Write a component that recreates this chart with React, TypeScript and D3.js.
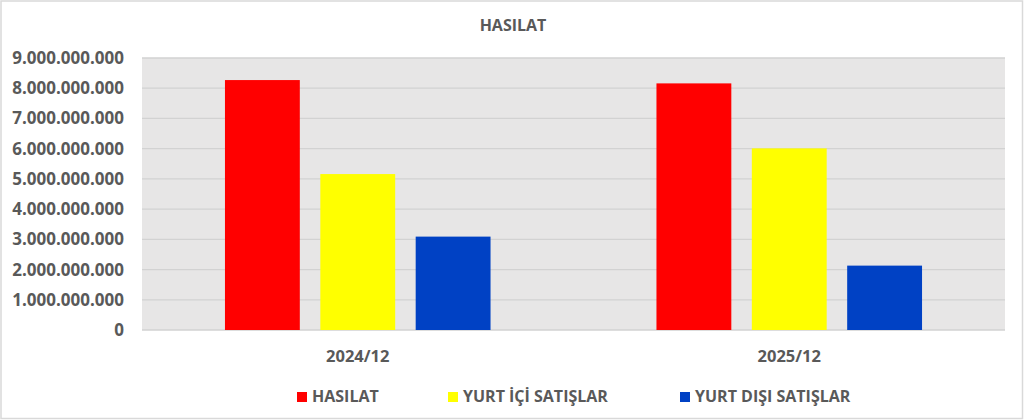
import { useEffect, useRef } from 'react'
import * as d3 from 'd3'

const categories = ['2024/12', '2025/12']
const seriesNames = ['HASILAT', 'YURT İÇİ SATIŞLAR', 'YURT DIŞI SATIŞLAR']
const hasilat = [8270000000, 8160000000]
const yurtIci = [5160000000, 6010000000]
const yurtDisi = [3090000000, 2130000000]
const yTicks = [0, 1e9, 2e9, 3e9, 4e9, 5e9, 6e9, 7e9, 8e9, 9e9]
const seriesColors = ['#ff0000', '#ffff00', '#0041c4']

const width = 1024
const height = 420
const FONT = '"Open Sans", "Noto Sans", sans-serif'
const TEXT = '#595959'

export default function App() {
  const svgRef = useRef<SVGSVGElement>(null)

  useEffect(() => {
    document.body.style.margin = '0'
    if (!svgRef.current) return
    const svg = d3.select(svgRef.current)
    svg.selectAll('*').remove()

    const plot = { left: 142, right: 1005, top: 58, bottom: 330 }
    const values = [hasilat, yurtIci, yurtDisi]

    // chart background + border
    svg
      .append('rect')
      .attr('x', 1)
      .attr('y', 1)
      .attr('width', width - 2.5)
      .attr('height', height - 2.5)
      .attr('fill', '#ffffff')
      .attr('stroke', '#d9d9d9')
      .attr('stroke-width', 1.5)

    // Title
    svg
      .append('text')
      .attr('x', 513)
      .attr('y', 31)
      .attr('text-anchor', 'middle')
      .attr('fill', TEXT)
      .attr('font-family', FONT)
      .attr('font-weight', 700)
      .attr('font-size', '16px')
      .text('HASILAT')

    const yScale = d3.scaleLinear().domain([0, 9e9]).range([plot.bottom, plot.top])

    const x0 = d3.scaleBand().domain(categories).range([plot.left, plot.right])
    const x1 = d3
      .scaleBand()
      .domain(seriesNames)
      .range([0, x0.bandwidth()])
      .paddingInner(0.215)
      .paddingOuter(0.87)

    const fmt = d3
      .formatLocale({ decimal: ',', thousands: '.', grouping: [3], currency: ['', ''] })
      .format(',d')

    // Plot background
    svg
      .append('rect')
      .attr('x', plot.left)
      .attr('y', plot.top)
      .attr('width', plot.right - plot.left)
      .attr('height', plot.bottom - plot.top)
      .attr('fill', '#e7e6e6')

    // Grid lines
    svg
      .append('g')
      .selectAll('line')
      .data(yTicks)
      .enter()
      .append('line')
      .attr('x1', plot.left)
      .attr('x2', plot.right)
      .attr('y1', (d) => yScale(d))
      .attr('y2', (d) => yScale(d))
      .attr('stroke', '#d2d2d2')
      .attr('stroke-width', 1.3)

    // Y axis labels
    svg
      .append('g')
      .selectAll('text')
      .data(yTicks)
      .enter()
      .append('text')
      .attr('x', 124)
      .attr('y', (d) => yScale(d) + 6)
      .attr('text-anchor', 'end')
      .attr('fill', TEXT)
      .attr('font-family', FONT)
      .attr('font-weight', 700)
      .attr('font-size', '17px')
      .text((d) => fmt(d))

    // Bars
    values.forEach((vals, si) => {
      svg
        .append('g')
        .selectAll('rect')
        .data(vals)
        .enter()
        .append('rect')
        .attr('x', (_, i) => (x0(categories[i]) || 0) + (x1(seriesNames[si]) || 0))
        .attr('y', (d) => yScale(d))
        .attr('width', x1.bandwidth())
        .attr('height', (d) => yScale(0) - yScale(d))
        .attr('fill', seriesColors[si])
    })

    // Category labels
    svg
      .append('g')
      .selectAll('text')
      .data(categories)
      .enter()
      .append('text')
      .attr('x', (d) => (x0(d) || 0) + x0.bandwidth() / 2)
      .attr('y', 362)
      .attr('text-anchor', 'middle')
      .attr('fill', TEXT)
      .attr('font-family', FONT)
      .attr('font-weight', 700)
      .attr('font-size', '16.5px')
      .text((d) => d)

    // Legend
    const legendX = [297, 448, 680]
    const legend = svg.append('g')
    seriesNames.forEach((name, i) => {
      legend
        .append('rect')
        .attr('x', legendX[i])
        .attr('y', 392)
        .attr('width', 10)
        .attr('height', 10)
        .attr('fill', seriesColors[i])
      legend
        .append('text')
        .attr('x', legendX[i] + 15)
        .attr('y', 402)
        .attr('fill', TEXT)
        .attr('font-family', FONT)
        .attr('font-weight', 700)
        .attr('font-size', '16px')
        .text(name)
    })
  }, [])

  return <svg ref={svgRef} width={width} height={height} style={{ display: 'block' }} />
}
